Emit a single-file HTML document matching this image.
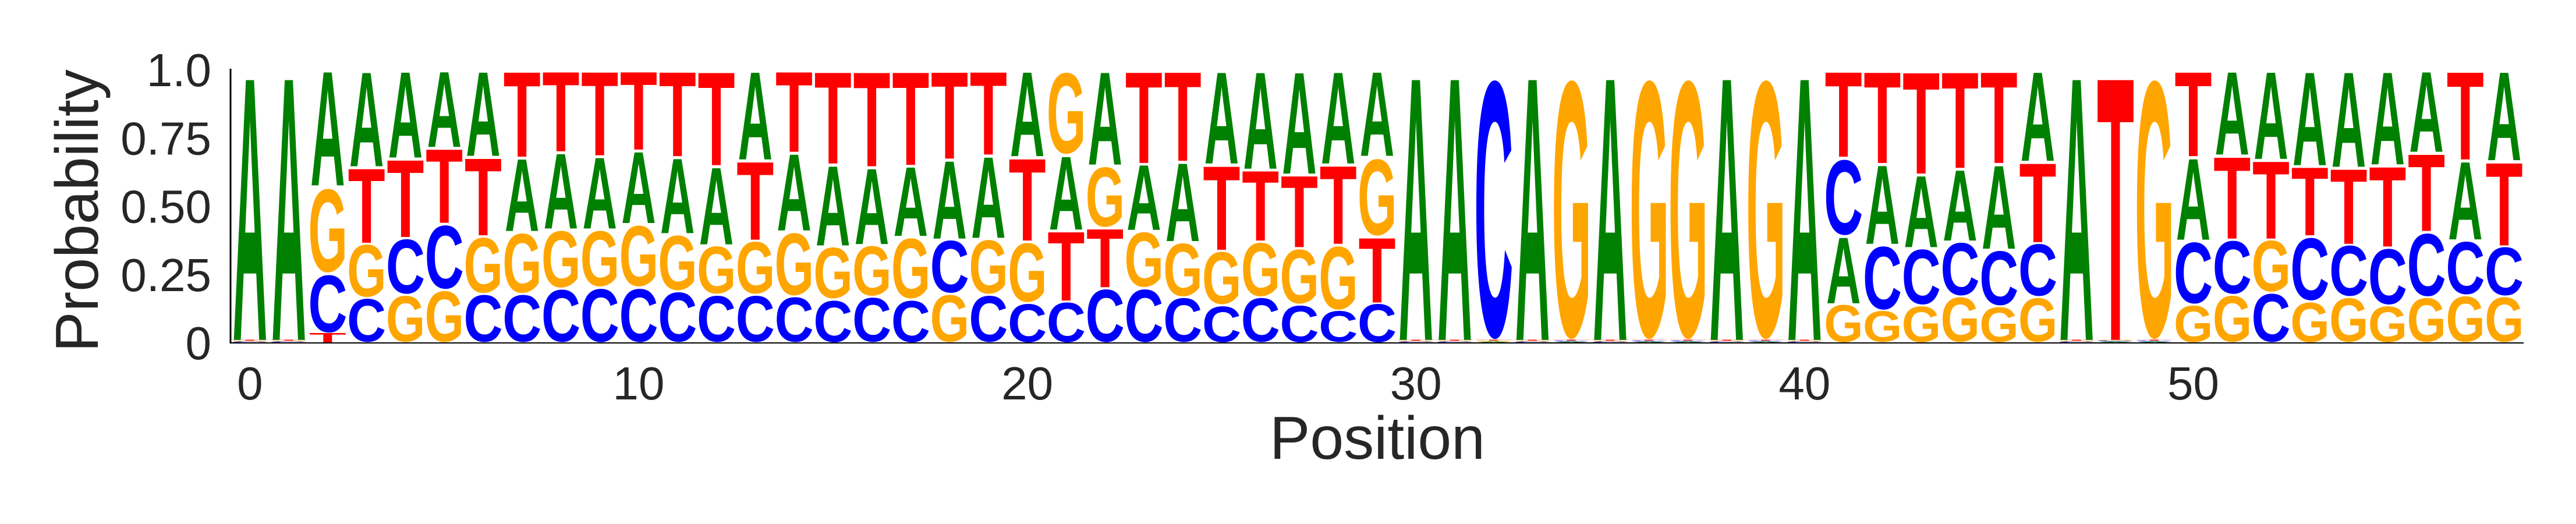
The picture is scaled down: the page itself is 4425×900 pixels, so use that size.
<!DOCTYPE html>
<html><head><meta charset="utf-8"><style>
html,body{margin:0;padding:0;background:#fff;}
svg{display:block;}
text{font-family:"Liberation Sans",Arial,sans-serif;}
</style></head><body>
<svg id="chart" width="4425" height="900" viewBox="0 0 4425 900" xmlns="http://www.w3.org/2000/svg">
<g id="letters"></g>
<line x1="396" y1="118" x2="396" y2="590" stroke="#000" stroke-width="3"/>
<line x1="396" y1="589" x2="4335" y2="589" stroke="#000" stroke-width="2"/>
<g id="yticks"></g>
<g id="xticks"></g>
<text x="0" y="0" transform="translate(168,362) rotate(-90)" text-anchor="middle" font-size="104" fill="#262626">Probability</text>
<text x="2366" y="788" text-anchor="middle" font-size="104" fill="#262626">Position</text>
</svg>
<script>
const probA = [0.99,0.99,0.43,0.355,0.323,0.284,0.317,0.272,0.283,0.268,0.269,0.282,0.29,0.33,0.288,0.3,0.285,0.26,0.293,0.305,0.318,0.276,0.349,0.245,0.294,0.345,0.364,0.382,0.345,0.317,0.99,0.99,0.003,0.99,0.003,0.99,0.003,0.003,0.99,0.003,0.99,0.249,0.296,0.269,0.266,0.314,0.335,0.99,0.003,0.003,0.306,0.312,0.328,0.351,0.357,0.348,0.302,0.293,0.333];
const probC = [0.003,0.003,0.22,0.165,0.209,0.243,0.18,0.18,0.2,0.204,0.204,0.19,0.177,0.177,0.171,0.16,0.17,0.16,0.2,0.177,0.147,0.153,0.202,0.202,0.168,0.138,0.168,0.141,0.119,0.146,0.003,0.003,0.99,0.003,0.003,0.003,0.003,0.003,0.003,0.003,0.003,0.288,0.242,0.211,0.202,0.208,0.199,0.003,0.003,0.003,0.235,0.203,0.184,0.239,0.193,0.213,0.24,0.202,0.184];
const probG = [0.003,0.003,0.32,0.2,0.177,0.195,0.212,0.228,0.217,0.213,0.233,0.21,0.182,0.199,0.239,0.195,0.19,0.23,0.18,0.206,0.226,0.311,0.229,0.21,0.203,0.201,0.205,0.208,0.242,0.293,0.003,0.003,0.003,0.003,0.99,0.003,0.99,0.99,0.003,0.99,0.003,0.143,0.119,0.138,0.171,0.135,0.168,0.003,0.003,0.99,0.141,0.177,0.196,0.153,0.168,0.138,0.168,0.175,0.171];
const probT = [0.003,0.003,0.035,0.28,0.291,0.278,0.291,0.32,0.3,0.315,0.294,0.318,0.351,0.294,0.302,0.345,0.355,0.35,0.327,0.312,0.309,0.26,0.22,0.343,0.335,0.316,0.263,0.269,0.294,0.244,0.003,0.003,0.003,0.003,0.003,0.003,0.003,0.003,0.003,0.003,0.003,0.32,0.343,0.382,0.361,0.343,0.298,0.003,0.99,0.003,0.318,0.308,0.292,0.257,0.282,0.301,0.29,0.33,0.312];
const yTickValues = [0, 0.25, 0.5, 0.75, 1.0];
const yTickLabels = ["0", "0.25", "0.50", "0.75", "1.0"];
const xTickValues = [0, 10, 20, 30, 40, 50];

const X0 = 396, X1 = 4335, Y0 = 588, Y1 = 119;
const nPos = probA.length;
function xScale(p){ return X0 + (p + 0.5) * (X1 - X0) / nPos; }
function yScale(v){ return Y0 - v * (Y0 - Y1); }
const colors = {A:"#008000", C:"#0000ff", G:"#ffa500", T:"#ff0000"};
const ink = {A:[0,722,-716,0], C:[42,680,-728,12], G:[44,728,-728,12], T:[22,589,-716,0]};
const NS = "http://www.w3.org/2000/svg";
const lettersG = document.getElementById("letters");
const step = (X1 - X0) / nPos;
const w = step * 0.89;
for (let p = 0; p < nPos; p++) {
  const items = [["A",probA[p]],["C",probC[p]],["G",probG[p]],["T",probT[p]]];
  items.sort((a,b)=>a[1]-b[1]);
  let cum = 0;
  for (const [ch, v] of items) {
    const yb = yScale(cum), yt = yScale(cum + v);
    cum += v;
    const h = yb - yt;
    if (h < 0.5) continue;
    const b = ink[ch];
    const sx = w / (b[1] - b[0]);
    const sy = h / (b[3] - b[2]);
    const left = xScale(p) - w / 2;
    const t = document.createElementNS(NS, "text");
    
    
    t.setAttribute("font-size", "1000");
    t.setAttribute("font-weight", "bold");
    t.setAttribute("fill", colors[ch]);
    t.setAttribute("x", "0"); t.setAttribute("y", "0");
    t.setAttribute("transform", `translate(${left},${yb}) scale(${sx},${sy}) translate(${-b[0]},${-b[3]})`);
    t.textContent = ch;
    lettersG.appendChild(t);
  }
}
const yt = document.getElementById("yticks");
yTickValues.forEach((v,i)=>{
  const t = document.createElementNS(NS,"text");
  
  
  t.setAttribute("x", 363); t.setAttribute("y", yScale(v) + 29);
  t.setAttribute("text-anchor","end"); t.setAttribute("font-size","80"); t.setAttribute("fill","#262626");
  t.textContent = yTickLabels[i];
  yt.appendChild(t);
});
const xt = document.getElementById("xticks");
xTickValues.forEach(v=>{
  const t = document.createElementNS(NS,"text");
  
  
  t.setAttribute("x", xScale(v)); t.setAttribute("y", 686);
  t.setAttribute("text-anchor","middle"); t.setAttribute("font-size","80"); t.setAttribute("fill","#262626");
  t.textContent = String(v);
  xt.appendChild(t);
});
</script>
</body></html>
